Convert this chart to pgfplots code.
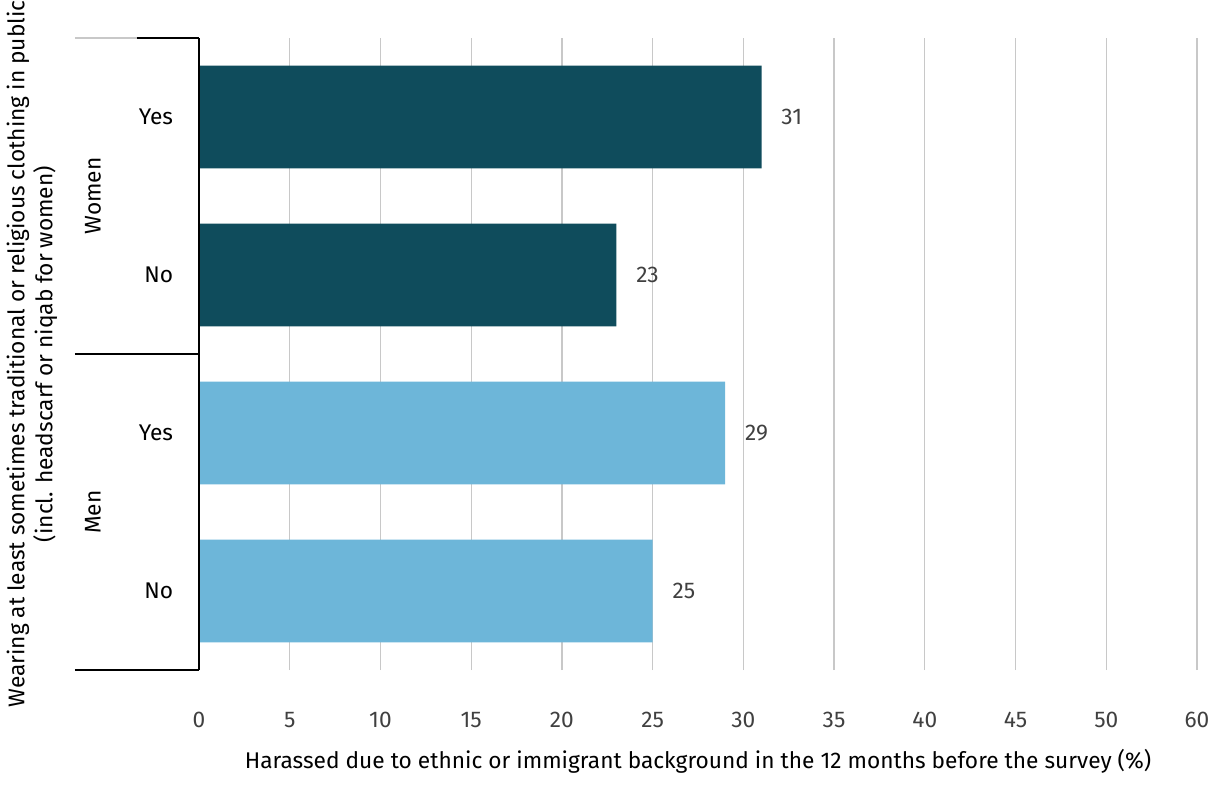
\documentclass[border=0pt]{standalone}
\usepackage{pgfplots}
\pgfplotsset{compat=1.18}
\usepackage{fontspec}
\setmainfont{Fira Sans}
\definecolor{womenc}{HTML}{0F4C5C}
\definecolor{menc}{HTML}{6DB6D9}
\definecolor{valc}{HTML}{404040}
\definecolor{gridc}{HTML}{C8C8C8}
\newcommand{\chartfont}{\fontsize{11.35}{14}\selectfont}
\begin{document}
\chartfont
\begin{tikzpicture}
\useasboundingbox (0pt,0pt) rectangle (608pt,400pt);
\begin{axis}[
  at={(99.5pt,65pt)}, anchor=south west,
  scale only axis, width=499pt, height=316pt,
  xmin=0, xmax=55, ymin=-0.5, ymax=3.5,
  xtick={0,5,...,55},
  xticklabels={0,5,10,15,20,25,30,35,40,45,50,60},
  ytick={0,1,2,3},
  yticklabels={No,Yes,No,Yes},
  major tick length=0,
  xmajorgrids, major grid style={gridc, line width=0.6pt},
  axis line style={draw=none},
  xticklabel style={yshift=-17pt, text=valc, font=\chartfont},
  yticklabel style={xshift=-9pt, text=black, font=\chartfont},
  /pgf/number format/assume math mode=true,
  xbar, bar width=0.65, bar shift=0,
  point meta=explicit symbolic,
  nodes near coords,
  nodes near coords style={anchor=west, xshift=6pt, text=valc, font=\chartfont},
  clip=false,
]
% Women
\addplot[fill=womenc, draw=none] coordinates {(23,2) [23] (31,3) [31]};
% Men
\addplot[fill=menc, draw=none] coordinates {(25,0) [25] (29,1) [29]};
% left axis line and group separators
\draw[black, line width=1pt] (axis cs:0,-0.5) -- (axis cs:0,3.5);
\draw[black, line width=1pt] ([xshift=-62pt]axis cs:0,-0.5) -- (axis cs:0,-0.5);
\draw[black, line width=1pt] ([xshift=-62pt]axis cs:0,1.5) -- (axis cs:0,1.5);
\draw[gridc, line width=0.6pt] ([xshift=-62pt]axis cs:0,3.5) -- ([xshift=-31pt]axis cs:0,3.5);
\draw[black, line width=1pt] ([xshift=-31pt]axis cs:0,3.5) -- (axis cs:0,3.5);
\node[rotate=90] at ([xshift=-53pt]axis cs:0,2.5) {Women};
\node[rotate=90] at ([xshift=-53pt]axis cs:0,0.5) {Men};
\end{axis}
\node[rotate=90, align=center, inner sep=0pt] at (16pt,223pt)
  {Wearing at least sometimes traditional or religious clothing in public\\(incl. headscarf or niqab for women)};
\node at (349pt,19.5pt) {Harassed due to ethnic or immigrant background in the 12 months before the survey (\%)};
\end{tikzpicture}
\end{document}
